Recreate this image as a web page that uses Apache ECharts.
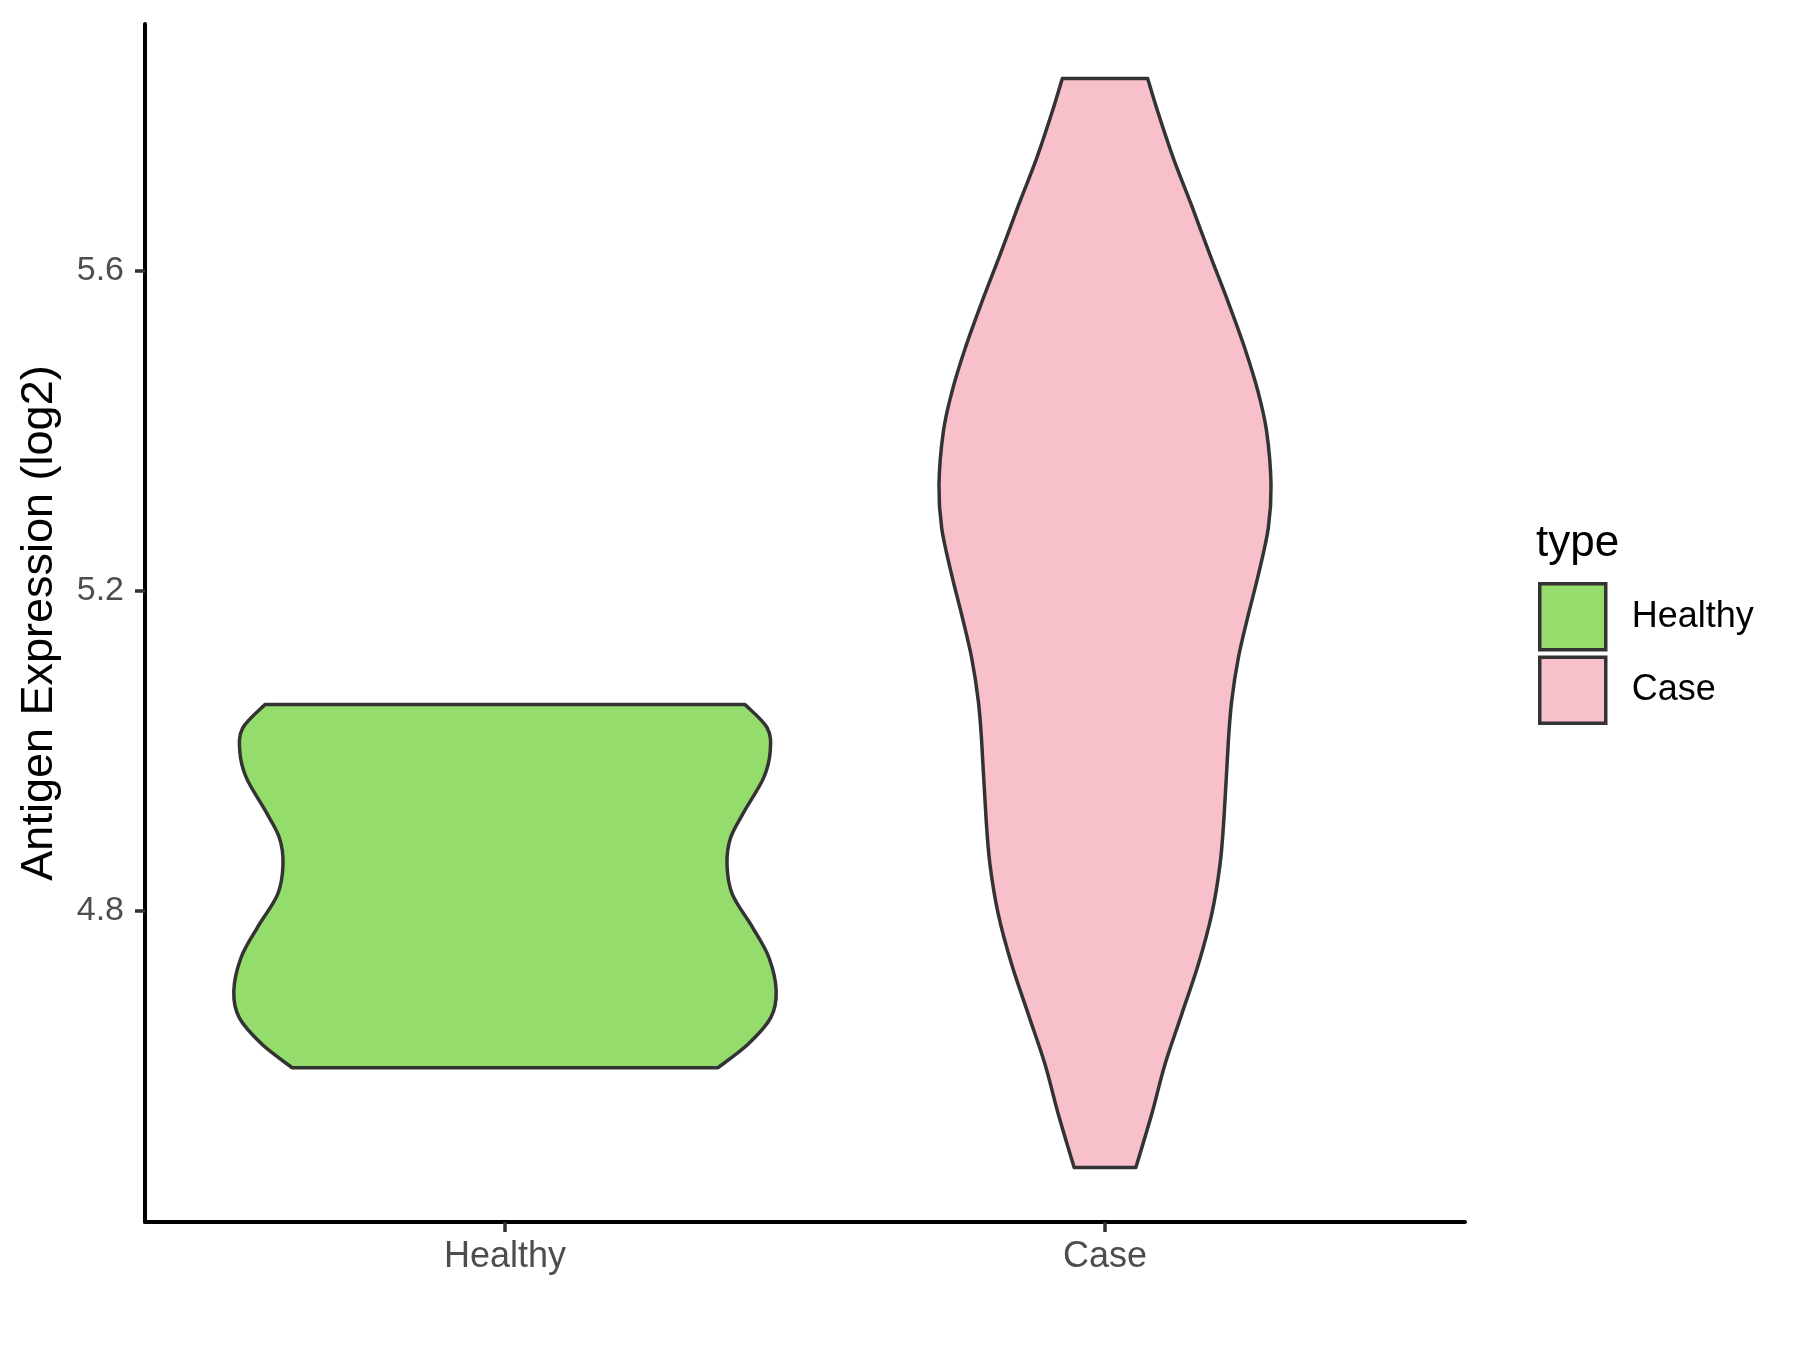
<!DOCTYPE html>
<html>
<head>
<meta charset="utf-8">
<script src="https://cdn.jsdelivr.net/npm/echarts@6/dist/echarts.min.js"></script>
<style>
html,body{margin:0;padding:0;background:#fff;}
#chart{width:1800px;height:1350px;}
</style>
</head>
<body>
<div id="chart"></div>
<script>
// ---- data ----
const categories = ['Healthy', 'Case'];
const yTicks = [4.8, 5.2, 5.6];

// Healthy violin: y values (top -> bottom) and half-widths (x units)
const healthyY    = [5.0575, 5.0283, 4.9991, 4.9658, 4.9241, 4.8908, 4.8575, 4.8200, 4.7783, 4.7408, 4.6991, 4.6658, 4.6325, 4.6033];
const healthyHalf = [0.400, 0.437, 0.442, 0.431, 0.399, 0.376, 0.370, 0.379, 0.413, 0.440, 0.452, 0.443, 0.405, 0.355];

// Case violin
const caseY    = [5.8408, 5.7991, 5.7408, 5.6825, 5.6200, 5.5616, 5.5033, 5.4491, 5.3991, 5.3325, 5.2783, 5.2200, 5.1700, 5.1158, 5.0616, 5.0116, 4.9158, 4.8575, 4.7950, 4.7325, 4.6700, 4.6075, 4.5450, 4.4783];
const caseHalf = [0.0711, 0.0880, 0.1140, 0.1440, 0.1750, 0.2050, 0.2330, 0.2550, 0.2694, 0.2767, 0.2722, 0.2556, 0.2389, 0.2222, 0.2111, 0.2056, 0.1983, 0.1917, 0.1778, 0.1556, 0.1278, 0.1000, 0.0778, 0.0514];

const colors = { Healthy: '#94DC6B', Case: '#F7C0CB' };
const FONT = '"Liberation Sans", Arial, Helvetica, sans-serif';

function catmull(pts) {
  let d = '';
  for (let i = 0; i < pts.length - 1; i++) {
    const p0 = pts[i - 1] || pts[i], p1 = pts[i], p2 = pts[i + 1], p3 = pts[i + 2] || pts[i + 1];
    const c1 = [p1[0] + (p2[0] - p0[0]) / 6, p1[1] + (p2[1] - p0[1]) / 6];
    const c2 = [p2[0] - (p3[0] - p1[0]) / 6, p2[1] - (p3[1] - p1[1]) / 6];
    d += ' C' + c1[0] + ',' + c1[1] + ' ' + c2[0] + ',' + c2[1] + ' ' + p2[0] + ',' + p2[1];
  }
  return d;
}

function makeRender(xc, ys, hs, fill) {
  return function (params, api) {
    const n = ys.length;
    const left = [], right = [];
    for (let i = n - 1; i >= 0; i--) left.push(api.coord([xc - hs[i], ys[i]]));
    for (let i = 0; i < n; i++) right.push(api.coord([xc + hs[i], ys[i]]));
    let d = 'M' + left[0][0] + ',' + left[0][1] + catmull(left);
    d += ' L' + right[0][0] + ',' + right[0][1] + catmull(right) + ' Z';
    return {
      type: 'path',
      shape: { pathData: d },
      style: { fill: fill, stroke: '#333333', lineWidth: 3.5, lineJoin: 'round' }
    };
  };
}

const chart = echarts.init(document.getElementById('chart'), null, { renderer: 'canvas' });
chart.setOption({
  backgroundColor: '#ffffff',
  animation: false,
  textStyle: { fontFamily: FONT },
  grid: { left: 145, right: 335, top: 24, bottom: 128 },
  graphic: [{
    type: 'text', left: 1536, top: 522,
    style: { text: 'type', font: '44px ' + FONT, fill: '#000000' }
  }],
  legend: {
    orient: 'vertical',
    left: 1533, top: 577,
    padding: 5,
    icon: 'rect',
    itemWidth: 66, itemHeight: 66, itemGap: 4,
    data: categories,
    itemStyle: { borderColor: '#333333', borderWidth: 3.5 },
    textStyle: { fontFamily: FONT, fontSize: 36, color: '#000000', padding: [0, 0, 0, 21] },
    selectedMode: false
  },
  xAxis: {
    type: 'value', min: 0.4, max: 2.6,
    axisLine: { show: true, onZero: false, lineStyle: { color: '#000000', width: 4 } },
    axisTick: { show: true, customValues: [1, 2], length: 10, lineStyle: { color: '#333333', width: 3.5 } },
    axisLabel: { customValues: [1, 2], margin: 17, fontSize: 36, color: '#4D4D4D', fontFamily: FONT,
      formatter: v => categories[Math.round(v) - 1] || '' },
    splitLine: { show: false }
  },
  yAxis: {
    type: 'value', min: 4.4102, max: 5.9089,
    name: 'Antigen Expression (log2)', nameLocation: 'middle', nameGap: 83, nameRotate: 90,
    nameTextStyle: { fontSize: 45, color: '#000000', fontFamily: FONT },
    axisLine: { show: true, onZero: false, lineStyle: { color: '#000000', width: 4 } },
    axisTick: { show: true, customValues: yTicks, length: 10, lineStyle: { color: '#333333', width: 3.5 } },
    axisLabel: { customValues: yTicks, margin: 21, fontSize: 34, color: '#4D4D4D', fontFamily: FONT,
      formatter: v => v.toFixed(1) },
    splitLine: { show: false }
  },
  series: [
    { name: 'Healthy', type: 'custom', data: [[1, healthyY[0]]],
      itemStyle: { color: colors.Healthy, borderColor: '#333333', borderWidth: 3.5 },
      renderItem: makeRender(1, healthyY, healthyHalf, colors.Healthy) },
    { name: 'Case', type: 'custom', data: [[2, caseY[0]]],
      itemStyle: { color: colors.Case, borderColor: '#333333', borderWidth: 3.5 },
      renderItem: makeRender(2, caseY, caseHalf, colors.Case) }
  ]
});
</script>
</body>
</html>
